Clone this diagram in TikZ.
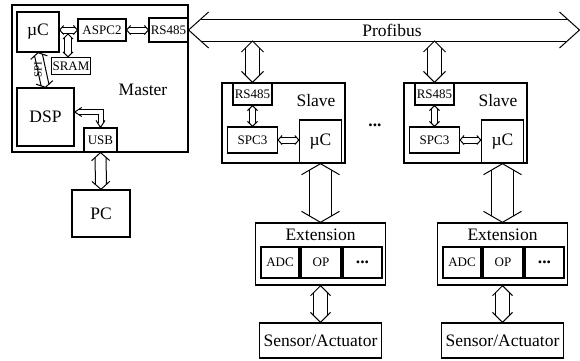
\documentclass[tikz,border=0pt]{standalone}
\usepackage{fontspec}
\setmainfont{Liberation Serif}
\usetikzlibrary{calc}
\newcommand{\mainsize}{\fontsize{17.5}{20}\selectfont}
\newcommand{\chipsize}{\fontsize{13}{15}\selectfont}
%open arrow head: #1 tip, #2 point it comes from, #3 half width, #4 length
\newcommand\tipat[4]{%
    \draw ($(#1)!#4pt!(#2)!#3pt!90:(#2)$) -- (#1) -- ($(#1)!#4pt!(#2)!#3pt!-90:(#2)$);%
}
%hollow double arrow: #3 half width of shaft, #4 half width of head, #5 head length
\newcommand\busarrow[5]{%
    \pgfmathsetmacro\shaftcut{#5*#3/#4}%
    \draw ($(#1)!\shaftcut pt!(#2)!#3pt!90:(#2)$) -- ($(#2)!\shaftcut pt!(#1)!#3pt!-90:(#1)$);%
    \draw ($(#1)!\shaftcut pt!(#2)!#3pt!-90:(#2)$) -- ($(#2)!\shaftcut pt!(#1)!#3pt!90:(#1)$);%
    \tipat{#1}{#2}{#4}{#5}%
    \tipat{#2}{#1}{#4}{#5}%
}
\begin{document}
\begin{tikzpicture}[x=1pt, y=-1pt, line width=1pt,
box/.style={draw, line width=1.4pt, inner sep=0pt, font=\mainsize},
chip/.style={box, line width=1.2pt, font=\chipsize}]
\useasboundingbox (0,0) rectangle (580,360);
\def\dx{182}

%master station
\node[box, minimum width=176pt, minimum height=147pt] (master) at (100,78.5) {};
\node[font=\mainsize] (mlabel) at (143,90) {Master};
\node[box, minimum width=42pt, minimum height=40pt] (mc) at (38,32) {µC};
\node[chip, minimum width=48pt, minimum height=22pt] (aspc) at (102,30) {ASPC2};
\node[chip, minimum width=39pt, minimum height=24pt] (rsm) at (168.5,30) {RS485};
\node[chip, minimum width=39pt, minimum height=17pt] (sram) at (71,66) {SRAM};
\node[box, minimum width=57pt, minimum height=58pt] (dsp) at (45.5,117) {DSP};
\node[chip, minimum width=33pt, minimum height=24pt] (usb) at (100.5,140) {USB};
\node[box, minimum width=58pt, minimum height=47pt] (pc) at (101,213.5) {PC};

%links inside the master
\coordinate (mcport) at (aspc.west -| mc.east);
\busarrow{mcport}{aspc.west}{3}{4.5}{4}
\busarrow{aspc.east}{rsm.west}{3}{4.5}{4}
\coordinate (sramport) at (68,34);
\coordinate (sramtop) at (sramport |- sram.north);
\busarrow{sramport}{sramtop}{3.5}{5}{5}
\busarrow{mc.south}{dsp.north}{4}{8.5}{5}
\node[font=\fontsize{11}{12}\selectfont, rotate=90, inner sep=0pt] (spi) at (38,70) {SPI};
\coordinate (dspport) at ([yshift=5pt]dsp.east);
\coordinate (bend) at (dspport -| usb.north);
\draw ([xshift=4pt, yshift=2.5pt]dspport) -- ([xshift=2.5pt, yshift=2.5pt]bend) -- ([xshift=2.5pt, yshift=4pt]usb.north);
\draw ([xshift=4pt, yshift=-2.5pt]dspport) -- ([xshift=-2.5pt, yshift=-2.5pt]bend) -- ([xshift=-2.5pt, yshift=4pt]usb.north);
\tipat{dspport}{bend}{4.5}{7}
\tipat{usb.north}{bend}{4.5}{7}
\busarrow{usb.south}{pc.north}{5.5}{9}{8}

%profibus
\coordinate (busend) at (579.5,30);
\busarrow{rsm.east}{busend}{11}{18}{20}
\node[font=\mainsize] (bus) at (392,30) {Profibus};
\node[font=\mainsize] (gap) at (375,125) {\textbf{...}};

%slaves with their extension boards
\foreach \i in {0,1}{
\begin{scope}[xshift=\i*\dx]
    \node[box, minimum width=123pt, minimum height=80pt] (slave\i) at (283.5,123) {};
    \node[font=\mainsize] (slabel\i) at (316,101) {Slave};
    \node[chip, minimum width=39pt, minimum height=22pt] (rs\i) at (252.5,94) {RS485};
    \node[chip, minimum width=50pt, minimum height=26pt] (spc\i) at (252.5,140) {SPC3};
    \node[box, minimum width=42pt, minimum height=43pt] (uc\i) at (320.5,141.5) {µC};
    \coordinate (tap\i) at (rs\i.north |- 0,41);
    \busarrow{tap\i}{rs\i.north}{7}{11}{11}
    \busarrow{rs\i.south}{spc\i.north}{3}{5}{5}
    \coordinate (ucport\i) at (spc\i.east -| uc\i.west);
    \busarrow{spc\i.east}{ucport\i}{3}{4.5}{4}
    %extension
    \node[box, minimum width=130pt, minimum height=62pt] (ext\i) at (320.5,254) {};
    \node[font=\mainsize] (elabel\i) at (320.5,235) {Extension};
    \node[chip, minimum width=38pt, minimum height=31pt] (adc\i) at (280,262.5) {ADC};
    \node[chip, minimum width=40pt, minimum height=31pt] (op\i) at (321,262.5) {OP};
    \node[chip, minimum width=39pt, minimum height=31pt, font=\mainsize] (more\i) at (362.5,262.5) {\textbf{...}};
    \node[box, minimum width=122pt, minimum height=35pt] (sensor\i) at (320.5,340.5) {Sensor/Actuator};
    \busarrow{uc\i.south}{ext\i.north}{11}{19}{11}
    \busarrow{ext\i.south}{sensor\i.north}{7}{10}{10}
\end{scope}
}
\end{tikzpicture}
\end{document}
